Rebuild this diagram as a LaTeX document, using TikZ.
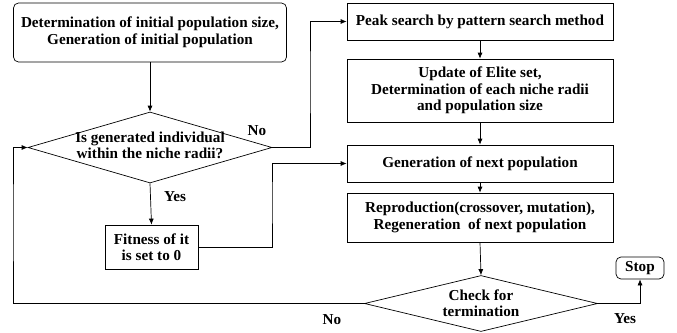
\documentclass[tikz,border=0pt]{standalone}
\usepackage{fontspec}
\setmainfont{Liberation Serif}
\usetikzlibrary{shapes.geometric,arrows.meta}
\tikzset{
  every node/.style={font=\fontsize{15.2}{16.5}\selectfont\bfseries, align=center},
  box/.style={draw, line width=0.7pt, inner sep=0pt},
  rbox/.style={box, rounded corners=5pt},
  dia/.style={draw, diamond, line width=0.7pt, inner sep=0pt},
  conn/.style={line width=0.7pt},
  arr/.style={conn, -{Latex[length=6pt,width=5pt]}},
  lbl/.style={inner sep=0pt}
}
\begin{document}
\begin{tikzpicture}[x=1pt,y=-1pt]
\useasboundingbox (0,0) rectangle (677,332);
\node[rbox, minimum width=273pt, minimum height=59pt] (init) at (150,32.5)
  {Determination of initial population size,\\Generation of initial population};
\node[dia, minimum width=244pt, minimum height=71pt] (d1) at (150,147.5) {};
\node[lbl] (d1t) at (150,145.5) {Is generated individual\\within the niche radii?};
\node[box, minimum width=93pt, minimum height=44pt] (fit) at (151.5,247)
  {Fitness of it\\is set to 0};
\node[box, minimum width=266pt, minimum height=37pt] (peak) at (480,21.5)
  {Peak search by pattern search method};
\node[box, minimum width=266pt, minimum height=63pt] (upd) at (480,90.5)
  {Update of Elite set,\\Determination of each niche radii\\and population size};
\node[box, minimum width=266pt, minimum height=37pt] (gen) at (480,163.5)
  {Generation of next population};
\node[box, minimum width=266pt, minimum height=49pt] (rep) at (480,217.5)
  {Reproduction(crossover, mutation),\\Regeneration\ \ of next population};
\node[dia, minimum width=233pt, minimum height=56pt] (d2) at (481,303.5) {};
\node[lbl] (d2t) at (481,303) {Check for\\termination};
\node[rbox, minimum width=48pt, minimum height=22pt] (stop) at (640,268) {Stop};
\coordinate (lx) at (13,220);
\coordinate (nx) at (310,80);
\coordinate (fx) at (272,200);
\draw[arr] (init.south) -- (d1.north);
\draw[arr] (d1.south) -- (fit.north);
\draw[arr] (d1.east) -| (nx) |- (peak.west);
\draw[arr] (fit.east) -| (fx) |- (gen.west);
\draw[arr] (peak.south) -- (upd.north);
\draw[arr] (upd.south) -- (gen.north);
\draw[arr] (gen.south) -- (rep.north);
\draw[arr] (rep.south) -- (d2.north);
\draw[arr] (d2.west) -| (lx) |- (d1.west);
\draw[arr] (d2.east) -| (stop.south);
\node[lbl] (no1) at (257,131) {No};
\node[lbl] (yes1) at (175,197) {Yes};
\node[lbl] (no2) at (332,320) {No};
\node[lbl] (yes2) at (625,319) {Yes};
\end{tikzpicture}
\end{document}
